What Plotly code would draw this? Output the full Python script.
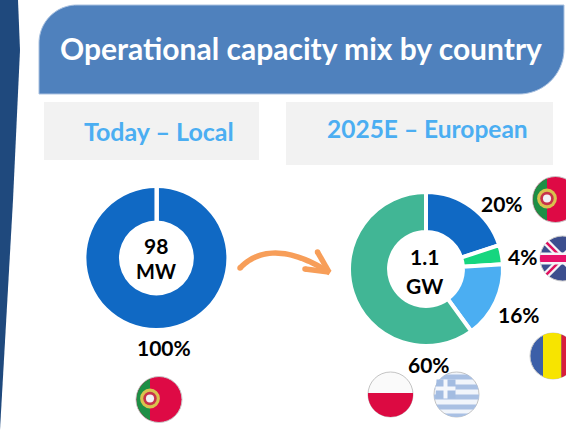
import numpy as np
import plotly.graph_objects as go

W, H = 566, 430
FONT = "Lato"

title_text = "Operational capacity mix by country"
left_heading = "Today – Local"
right_heading = "2025E – European"

left_labels = ["Portugal"]
left_values = [100]
left_colors = ["#1069C4"]
left_center = ["98", "MW"]

right_labels = ["Portugal", "UK", "Romania", "Poland & Greece"]
right_values = [20, 4, 16, 60]
right_colors = ["#1069C4", "#16D67F", "#4BAEF2", "#41B695"]
right_center = ["1.1", "GW"]


def px(x):
    return x / W


def py(y):
    return 1 - y / H


def poly(points, fill, line=None, lw=0, layer="above"):
    d = "M " + " L ".join(f"{px(x):.5f},{py(y):.5f}" for x, y in points) + " Z"
    return dict(type="path", xref="paper", yref="paper", path=d, fillcolor=fill,
                line=dict(color=line or "rgba(0,0,0,0)", width=lw), layer=layer)


def disc(cx, cy, r, fill, line=None, lw=0):
    return dict(type="circle", xref="paper", yref="paper", x0=px(cx - r), x1=px(cx + r),
                y0=py(cy + r), y1=py(cy - r), fillcolor=fill,
                line=dict(color=line or "rgba(0,0,0,0)", width=lw), layer="above")


def vband(cx, cy, r, x0, x1, fill):
    x0, x1 = max(x0, cx - r), min(x1, cx + r)
    xs = np.linspace(x0, x1, 30)
    h = np.sqrt(np.maximum(r * r - (xs - cx) ** 2, 0))
    return poly(list(zip(xs, cy - h)) + list(zip(xs[::-1], (cy + h)[::-1])), fill)


def hband(cx, cy, r, y0, y1, fill):
    y0, y1 = max(y0, cy - r), min(y1, cy + r)
    ys = np.linspace(y0, y1, 30)
    h = np.sqrt(np.maximum(r * r - (ys - cy) ** 2, 0))
    return poly(list(zip(cx - h, ys)) + list(zip((cx + h)[::-1], ys[::-1])), fill)


def seg(x0, y0, x1, y1, color, width):
    return dict(type="line", xref="paper", yref="paper", x0=px(x0), y0=py(y0), x1=px(x1), y1=py(y1),
                line=dict(color=color, width=width), layer="above")


def rounded_header(x0, y0, x1, y1, r_tl, r_br):
    t = np.linspace(0, np.pi / 2, 24)
    pts = [(x0 + r_tl - r_tl * np.cos(a), y0 + r_tl - r_tl * np.sin(a)) for a in t]
    pts += [(x1, y0)]
    pts += [(x1 - r_br + r_br * np.sin(np.pi / 2 - a), y1 - r_br + r_br * np.sin(a)) for a in t]
    pts += [(x0, y1)]
    return poly(pts, "#4F81BD", "#A9C1E0", 1, layer="below")


def portugal(cx, cy, r, split):
    g = "#1D8F45"
    red = "#DE0A45"
    ex = split
    return [
        disc(cx, cy, r + 0.5, red, "#C9C9C9", 1),
        vband(cx, cy, r, cx - r, split, g),
        disc(ex, cy - 1, r * 0.44, "#D9C24E"),
        disc(ex, cy - 1, r * 0.30, "#C8324A"),
        disc(ex, cy - 1, r * 0.18, "#F2F2F6"),
    ]


shapes = []
shapes.append(poly([(0, 0), (18, 0), (20, 50), (13, 200), (0, 430)], "#1F497D", layer="below"))
shapes.append(rounded_header(39, 5, 564, 94, 38, 45))
shapes.append(dict(type="rect", xref="paper", yref="paper", x0=px(44), x1=px(259), y0=py(160), y1=py(102),
                   fillcolor="#F2F2F2", line=dict(width=0), layer="below"))
shapes.append(dict(type="rect", xref="paper", yref="paper", x0=px(286), x1=px(553), y0=py(165), y1=py(102),
                   fillcolor="#F2F2F2", line=dict(width=0), layer="below"))
# seam of the single-slice donut
shapes.append(seg(156.7, 186, 156.7, 222, "#FFFFFF", 4.5))

# arrow
orange = "#F79E59"
t = np.linspace(0, 1, 30)
bez = [((1 - a) ** 3 * 240 + 3 * (1 - a) ** 2 * a * 262 + 3 * (1 - a) * a * a * 295 + a ** 3 * 330,
        (1 - a) ** 3 * 268 + 3 * (1 - a) ** 2 * a * 245 + 3 * (1 - a) * a * a * 250 + a ** 3 * 273) for a in t]
d = "M " + " L ".join(f"{px(x):.5f},{py(y):.5f}" for x, y in bez)
shapes.append(dict(type="path", xref="paper", yref="paper", path=d,
                   line=dict(color=orange, width=5.5), layer="above"))
shapes.append(seg(317.5, 252, 329, 272, orange, 5.5))
shapes.append(seg(305, 269, 329, 272, orange, 5.5))
for c in [(240, 268), (317.5, 252), (305, 269)]:
    shapes.append(disc(c[0], c[1], 2.75, orange))

# flags
shapes += portugal(159, 399.5, 22.5, 150)
shapes += portugal(555.5, 199.5, 22.5, 547)

# UK
ux, uy, ur = 562.5, 258.5, 22.5
shapes.append(disc(ux, uy, ur, "#3C4E8E", "#C9C9C9", 1))
k = ur * 0.707
shapes.append(seg(ux - k, uy - k, ux + k, uy + k, "#F4F4F8", 7))
shapes.append(seg(ux - k, uy + k, ux + k, uy - k, "#F4F4F8", 7))
shapes.append(seg(ux - k, uy - k, ux + k, uy + k, "#E0115F", 2.5))
shapes.append(seg(ux - k, uy + k, ux + k, uy - k, "#E0115F", 2.5))
shapes.append(hband(ux, uy, ur, uy - 6, uy + 6, "#F4F4F8"))
shapes.append(hband(ux, uy, ur, uy - 3.5, uy + 3.5, "#E8116A"))

# Romania
rx, ry, rr = 553, 356, 23
shapes.append(disc(rx, ry, rr, "#3C5FA8", "#C9C9C9", 1))
shapes.append(vband(rx, ry, rr, 543, 561.5, "#F7E400"))
shapes.append(vband(rx, ry, rr, 561.5, 580, "#D81E3C"))

# Poland
shapes.append(disc(390.5, 394.5, 22.5, "#FAFAFA", "#C4C4C4", 1))
shapes.append(hband(390.5, 394.5, 22.5, 393, 420, "#DC0A42"))

# Greece
gx, gy, gr = 456.5, 394.5, 22.5
shapes.append(disc(gx, gy, gr, "#F1F5FB", "#C4C4C4", 1))
for top in [gy - 20, gy - 10, gy, gy + 10, gy + 19]:
    shapes.append(hband(gx, gy, gr, top, top + 5, "#A9C0E3"))
shapes.append(poly([(gx - 20, gy - 15), (gx - 1, gy - 15), (gx - 1, gy + 4), (gx - 21, gy + 4)], "#A3BCE1"))
shapes.append(seg(gx - 11, gy - 15, gx - 11, gy + 4, "#F4F7FC", 4))
shapes.append(seg(gx - 21, gy - 6, gx - 1, gy - 6, "#F4F7FC", 4))


def ann(x, y, text, size, color="#000000"):
    return dict(x=px(x), y=py(y), xref="paper", yref="paper", text=f"<b>{text}</b>", showarrow=False,
                xanchor="center", yanchor="middle",
                font=dict(family=FONT, size=size, color=color))


right_label_pos = [(502, 203), (522, 256), (519, 314), (429, 364)]
annotations = [
    ann(301, 48, title_text, 30, "#FFFFFF"),
    ann(159, 131, left_heading, 25, "#4BAEF2"),
    ann(427, 128, right_heading, 24.5, "#4BAEF2"),
    ann(156, 245, left_center[0], 21),
    ann(156, 271, left_center[1], 20),
    ann(424, 256, right_center[0], 21),
    ann(424, 285, right_center[1], 21),
    ann(164, 347, f"{left_values[0]}%", 21),
]
for v, (x, y) in zip(right_values, right_label_pos):
    annotations.append(ann(x, y, f"{v}%", 21))

fig = go.Figure()
fig.add_trace(go.Pie(labels=left_labels, values=left_values, hole=0.535, sort=False, direction="clockwise",
                     marker=dict(colors=left_colors, line=dict(width=0)), textinfo="none", showlegend=False,
                     domain=dict(x=[px(156.4 - 70), px(156.4 + 70)], y=[py(258 + 70), py(258 - 70)])))
fig.add_trace(go.Pie(labels=right_labels, values=right_values, hole=0.48, sort=False, direction="clockwise",
                     marker=dict(colors=right_colors, line=dict(color="#FFFFFF", width=4)), textinfo="none",
                     showlegend=False,
                     domain=dict(x=[px(426 - 77), px(426 + 77)], y=[py(269 + 77), py(269 - 77)])))
fig.update_layout(width=W, height=H, margin=dict(l=0, r=0, t=0, b=0), paper_bgcolor="#FFFFFF",
                  plot_bgcolor="#FFFFFF", shapes=shapes, annotations=annotations,
                  font=dict(family=FONT))
fig.write_html("out.html", config=dict(displayModeBar=False),
               post_script="document.body.style.margin='0';document.documentElement.style.overflow='hidden';")
